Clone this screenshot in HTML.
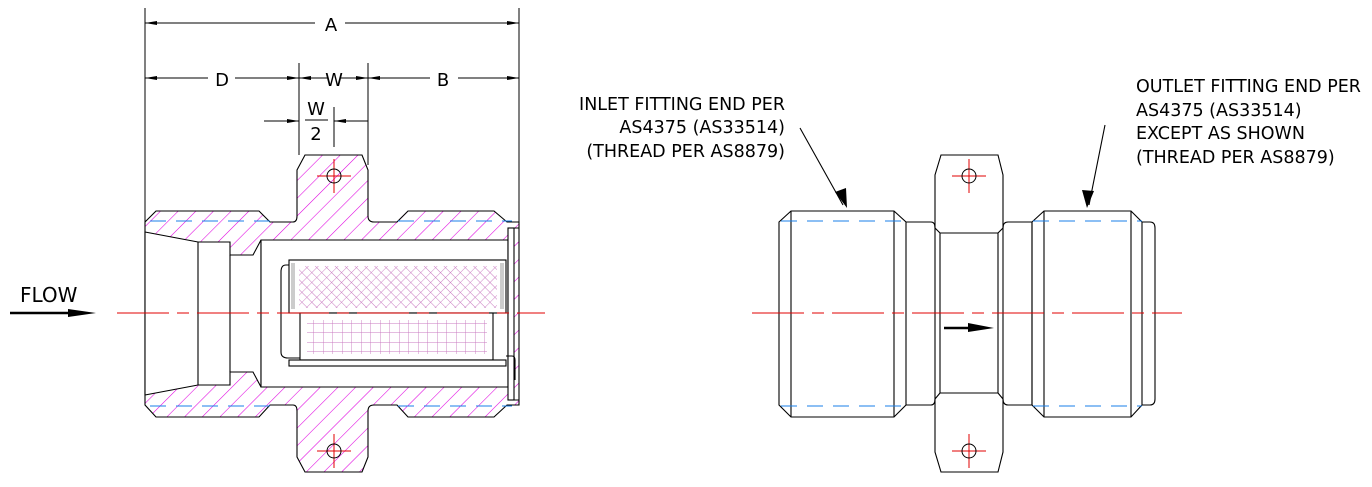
<!DOCTYPE html>
<html><head><style>html,body{margin:0;padding:0;background:#fff}svg{display:block}text{font-family:"DejaVu Sans","Liberation Sans",sans-serif;fill:#000}</style></head>
<body>
<svg width="1372" height="487" viewBox="0 0 1372 487" xmlns="http://www.w3.org/2000/svg">
<defs>
<pattern id="h" patternUnits="userSpaceOnUse" width="12.5" height="12.5" patternTransform="rotate(45)">
<line x1="0" y1="0" x2="0" y2="12.5" stroke="#e000e0" stroke-width="1.1"/></pattern>
<pattern id="m" patternUnits="userSpaceOnUse" width="7" height="7" patternTransform="rotate(45)">
<path d="M0 0V7M0 0H7" stroke="#c878c0" stroke-width="0.9"/></pattern>
<pattern id="g" patternUnits="userSpaceOnUse" width="9.5" height="9.5">
<path d="M0 0V9.5M0 0H9.5" stroke="#c878c0" stroke-width="0.9"/></pattern>
<marker id="ar" markerWidth="12" markerHeight="6" refX="12" refY="3" orient="auto" markerUnits="userSpaceOnUse"><path d="M0 1L12 3L0 5Z" fill="#000"/></marker>
</defs>
<g stroke="#000" stroke-width="1" fill="none">
<path d="M145 8V222M519 8V222M299 63V155M368 63V165M334 107V147"/>
<path d="M160 23H315M345 23H505" />
<path d="M175 23H145" marker-end="url(#ar)"/><path d="M490 23H519" marker-end="url(#ar)"/>
<path d="M175 78H145" marker-end="url(#ar)"/><path d="M175 78H208M235 78H287"/><path d="M270 78H299" marker-end="url(#ar)"/>
<path d="M328 78H299" marker-end="url(#ar)"/><path d="M340 78H368" marker-end="url(#ar)"/>
<path d="M398 78H368" marker-end="url(#ar)"/><path d="M398 78H430M458 78H519"/><path d="M490 78H519" marker-end="url(#ar)"/>
<path d="M264 121H299" marker-end="url(#ar)"/><path d="M368 121H334" marker-end="url(#ar)"/>
<path d="M305 120H328"/>
</g>
<text x="331" y="31" font-size="18" text-anchor="middle">A</text>
<text x="222" y="86" font-size="18" text-anchor="middle">D</text>
<text x="334" y="86" font-size="18" text-anchor="middle">W</text>
<text x="443" y="86" font-size="18" text-anchor="middle">B</text>
<text x="316" y="115" font-size="18" text-anchor="middle">W</text>
<text x="316" y="140" font-size="18" text-anchor="middle">2</text>
<text x="20" y="302" font-size="20">FLOW</text>
<path d="M10 313H80" stroke="#000" stroke-width="2.5"/><path d="M68 309L96 313L68 317Z" fill="#000"/>

<g stroke="#000" stroke-width="1.1">
<path fill="url(#h)" d="M145 222L156 211H259L270 222H293Q297 222 297 216V170L305 155H362L368 170V216Q368 222 374 222H397L408 211H494L507 222H519V405H507L494 417H408L397 405H374Q368 405 368 411V457L362 472H305L297 457V411Q297 405 293 405H270L259 417H156L145 405Z"/>
<path fill="#fff" d="M145 232L198 242H230V255H253L261 240V387L253 372H230V385H198L145 395Z"/>
<path fill="#fff" d="M261 240H508V387H261Z"/>
<path fill="none" d="M198 242V385M230 255V372"/>
<rect x="508" y="228" width="6" height="172" fill="#fff"/>
<path fill="none" d="M514 228H519M514 400H519"/>
<rect x="289" y="260" width="217" height="53" fill="#fff"/>
<rect x="299" y="266" width="198" height="42" fill="url(#m)" stroke="none"/>
<rect x="291" y="263" width="4" height="46" fill="#ccc" stroke="none"/>
<rect x="500" y="263" width="4" height="46" fill="#ccc" stroke="none"/>
<rect x="300" y="313" width="193" height="47" fill="#fff"/>
<rect x="307" y="320" width="180" height="34" fill="url(#g)" stroke="none"/>
<rect x="289" y="360" width="217" height="6" fill="#fff"/>
<path fill="none" d="M289 265H286Q281 265 281 272V352Q281 358 288 358H300M506 356H512Q515 356 515 360V380"/>
</g>
<path d="M150 221H270M398 221H512M150 406H270M398 406H512" stroke="#1a7fe8" stroke-dasharray="16 10"/>

<g stroke="#000" stroke-width="1.1" fill="none">
<path d="M779 222L791 211H894L906 222V405L894 417H791L779 405Z M791 211V417M894 211V417"/>
<path d="M906 222H931Q935 222 935 228M906 405H931Q935 405 935 399"/>
<path d="M941 155H998L1003 175V452L998 472H941L935 452V175Z"/>
<path d="M940 233H998M940 393H998M935 228L940 233V393L935 399M1003 228L998 233V393L1003 399"/>
<path d="M1003 228Q1003 222 1008 222H1032V405H1008Q1003 405 1003 399"/>
<path d="M1032 222L1044 211H1131L1142 222V405L1131 417H1044L1032 405Z M1044 211V417M1131 211V417"/>
<path d="M1142 222H1150Q1155 222 1155 228V399Q1155 405 1150 405H1142"/>
<path d="M800 128L843 205M1105 125L1089 205"/>
</g>
<path d="M835 192L847 208L846 188Z M1082 190L1087 208L1094 191Z" fill="#000"/>
<path d="M944 328H975" stroke="#000" stroke-width="2.5"/><path d="M968 323L994 328L968 332Z" fill="#000"/>
<path d="M781 221H906M1033 221H1142M781 406H906M1033 406H1142" stroke="#1a7fe8" stroke-dasharray="16 10"/>

<path d="M117 313H545M752 313H1182" stroke="#e00000" stroke-dasharray="52 8 12 8"/>
<g stroke="#e00000" stroke-width="1">
<path d="M317 176H351M334 159V193M317 451H351M334 434V468M952 176H986M969 159V193M952 451H986M969 434V468"/>
</g>
<g stroke="#000" fill="none"><circle cx="334" cy="176" r="7"/><circle cx="334" cy="451" r="7"/><circle cx="969" cy="176" r="7"/><circle cx="969" cy="451" r="7"/></g>

<g font-size="17.5">
<text x="785" y="110" text-anchor="end">INLET FITTING END PER</text>
<text x="785" y="133" text-anchor="end">AS4375 (AS33514)</text>
<text x="785" y="157" text-anchor="end">(THREAD PER AS8879)</text>
<text x="1136" y="92">OUTLET FITTING END PER</text>
<text x="1136" y="116">AS4375 (AS33514)</text>
<text x="1136" y="139">EXCEPT AS SHOWN</text>
<text x="1136" y="163">(THREAD PER AS8879)</text>
</g>
</svg>
</body></html>
